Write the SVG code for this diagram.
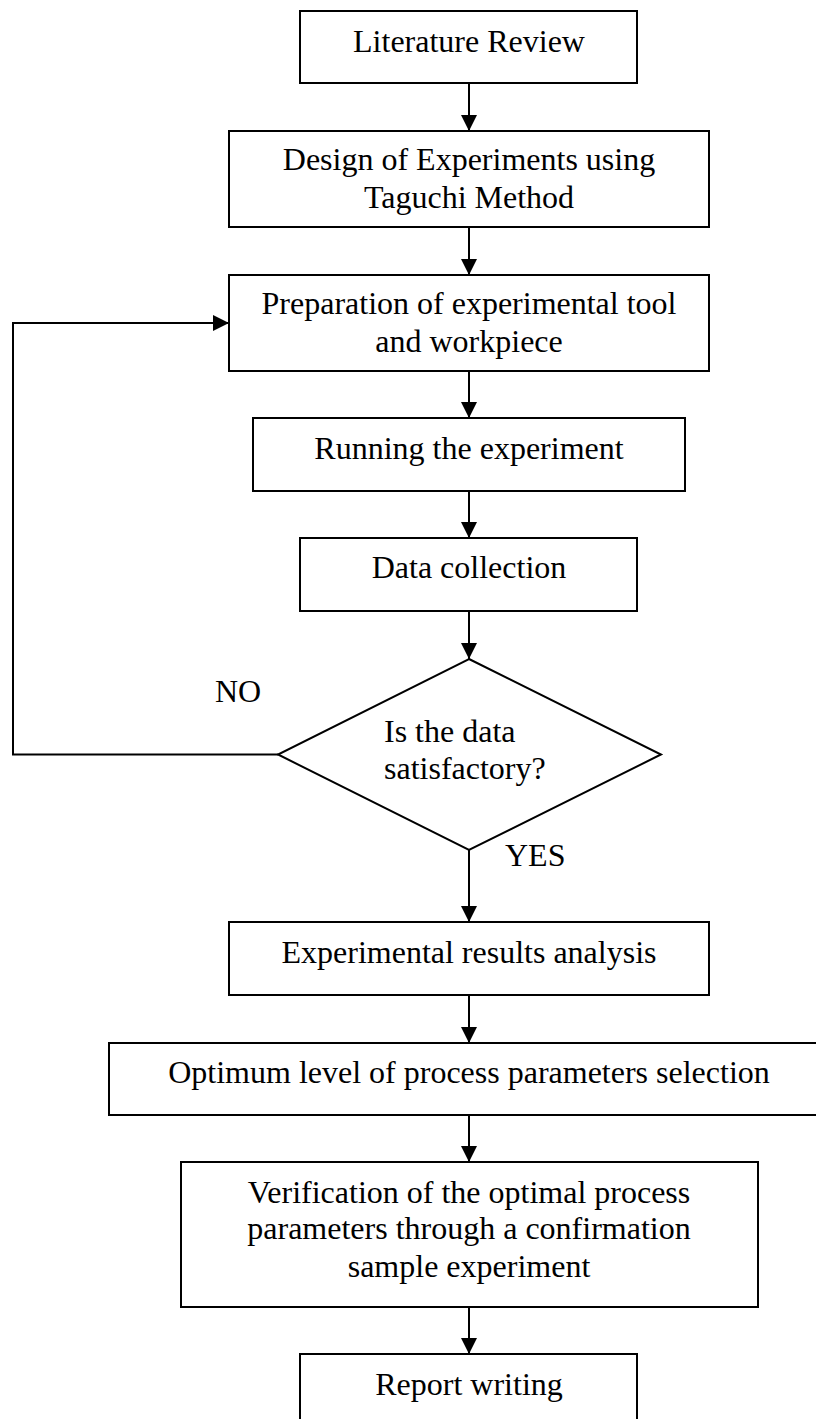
<svg xmlns="http://www.w3.org/2000/svg" width="816" height="1419" viewBox="0 0 816 1419">
<style>
.box{fill:#fff;stroke:#000;stroke-width:2}
.t{font-family:"Liberation Serif","Times New Roman",serif;font-size:32px;fill:#000;text-anchor:middle}
.tl{font-family:"Liberation Serif","Times New Roman",serif;font-size:32px;fill:#000}
.c{fill:none;stroke:#000;stroke-width:2}
</style>
<defs>
<marker id="ah" markerWidth="16" markerHeight="16" viewBox="0 0 16 16" refX="16" refY="8" orient="auto" markerUnits="userSpaceOnUse">
<path d="M0,0 L16,8 L0,16 Z" fill="#000"/>
</marker>
</defs>
<rect width="816" height="1419" fill="#fff"/>
<g id="connectors">
<line class="c" x1="469" y1="83" x2="469" y2="131" marker-end="url(#ah)"/>
<line class="c" x1="469" y1="227" x2="469" y2="275" marker-end="url(#ah)"/>
<line class="c" x1="469" y1="371" x2="469" y2="418" marker-end="url(#ah)"/>
<line class="c" x1="469" y1="491" x2="469" y2="538" marker-end="url(#ah)"/>
<line class="c" x1="469" y1="611" x2="469" y2="659" marker-end="url(#ah)"/>
<line class="c" x1="469" y1="850" x2="469" y2="922" marker-end="url(#ah)"/>
<line class="c" x1="469" y1="995" x2="469" y2="1043" marker-end="url(#ah)"/>
<line class="c" x1="469" y1="1115" x2="469" y2="1162" marker-end="url(#ah)"/>
<line class="c" x1="469" y1="1307" x2="469" y2="1354" marker-end="url(#ah)"/>
<polyline class="c" points="278,754.5 13,754.5 13,323 229,323" marker-end="url(#ah)"/>
<text class="tl" x="215" y="702">NO</text>
<text class="tl" x="505" y="866">YES</text>
</g>
<g id="literature">
<rect class="box" x="300" y="11" width="337" height="72"/>
<text class="t" x="469" y="52">Literature Review</text>
</g>
<g id="design">
<rect class="box" x="229" y="131" width="480" height="96"/>
<text class="t" x="469" y="170">Design of Experiments using</text>
<text class="t" x="469" y="208">Taguchi Method</text>
</g>
<g id="preparation">
<rect class="box" x="229" y="275" width="480" height="96"/>
<text class="t" x="469" y="314">Preparation of experimental tool</text>
<text class="t" x="469" y="352">and workpiece</text>
</g>
<g id="running">
<rect class="box" x="253" y="418" width="432" height="73"/>
<text class="t" x="469" y="459">Running the experiment</text>
</g>
<g id="data">
<rect class="box" x="300" y="538" width="337" height="73"/>
<text class="t" x="469" y="578">Data collection</text>
</g>
<g id="decision">
<polygon class="box" points="469,659 661,754.5 469,850 278,754.5"/>
<text class="tl" x="384" y="742">Is the data</text>
<text class="tl" x="384" y="779">satisfactory?</text>
</g>
<g id="analysis">
<rect class="box" x="229" y="922" width="480" height="73"/>
<text class="t" x="469" y="963">Experimental results analysis</text>
</g>
<g id="optimum">
<rect class="box" x="109" y="1043" width="720" height="72"/>
<text class="t" x="469" y="1083">Optimum level of process parameters selection</text>
</g>
<g id="verification">
<rect class="box" x="181" y="1162" width="577" height="145"/>
<text class="t" x="469" y="1203">Verification of the optimal process</text>
<text class="t" x="469" y="1239">parameters through a confirmation</text>
<text class="t" x="469" y="1277">sample experiment</text>
</g>
<g id="report">
<rect class="box" x="300" y="1354" width="337" height="80"/>
<text class="t" x="469" y="1395">Report writing</text>
</g>
</svg>
